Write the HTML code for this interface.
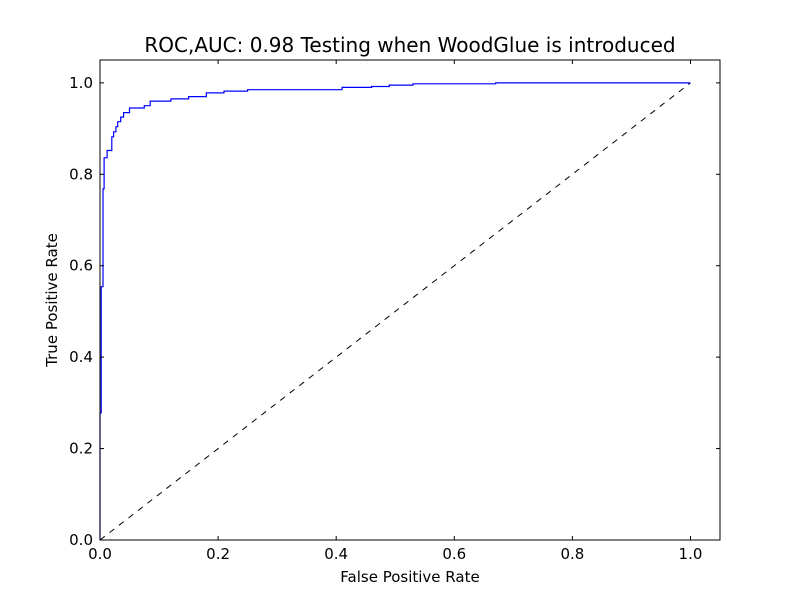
<!DOCTYPE html>
<html><head><meta charset="utf-8"><style>
body{margin:0;background:#fff}
svg text{font-family:"DejaVu Sans","Liberation Sans",sans-serif}
</style></head><body>
<svg id="chart" width="800" height="600" xmlns="http://www.w3.org/2000/svg">
<rect width="800" height="600" fill="#fff"/>
<g id="plot"></g>
</svg>
<script>
const fprValues=[0,0,0.002,0.002,0.005,0.005,0.007,0.007,0.012,0.012,0.02,0.02,0.023,0.023,0.027,0.027,0.03,0.03,0.035,0.035,0.04,0.04,0.05,0.05,0.075,0.075,0.085,0.085,0.12,0.12,0.15,0.15,0.18,0.18,0.21,0.21,0.25,0.25,0.41,0.41,0.46,0.46,0.49,0.49,0.53,0.53,0.67,0.67,1.0];
const tprValues=[0,0.278,0.278,0.554,0.554,0.768,0.768,0.836,0.836,0.852,0.852,0.882,0.882,0.893,0.893,0.904,0.904,0.915,0.915,0.925,0.925,0.935,0.935,0.945,0.945,0.95,0.95,0.96,0.96,0.965,0.965,0.97,0.97,0.978,0.978,0.982,0.982,0.985,0.985,0.99,0.99,0.992,0.992,0.995,0.995,0.998,0.998,1.0,1.0];
const xTicks=[0,0.2,0.4,0.6,0.8,1.0];
const yTicks=[0,0.2,0.4,0.6,0.8,1.0];
const tickLabels=["0.0","0.2","0.4","0.6","0.8","1.0"];
const L=100,R=720,T=60,B=540,MAX=1.05;
const sx=v=>L+v/MAX*(R-L), sy=v=>B-v/MAX*(B-T);
const g=document.getElementById('plot');
const NS='http://www.w3.org/2000/svg';
function mk(tag,attrs){const e=document.createElementNS(NS,tag);for(const k in attrs)e.setAttribute(k,attrs[k]);g.appendChild(e);return e;}
let d=mk('line',{x1:sx(0),y1:sy(0),x2:sx(1),y2:sy(1),stroke:'#000','stroke-dasharray':'6,6','stroke-width':1});


let pts=fprValues.map((f,i)=>sx(f).toFixed(1)+','+sy(tprValues[i]).toFixed(1)).join(' ');
let c=mk('polyline',{points:pts,fill:'none',stroke:'#0000ff','stroke-width':1.2});


let fr=mk('rect',{x:L,y:T,width:R-L,height:B-T,fill:'none',stroke:'#000','stroke-width':1});


xTicks.forEach((v,i)=>{
 const x=sx(v);
 mk('line',{x1:x,y1:B,x2:x,y2:B-4,stroke:'#000'});
 mk('line',{x1:x,y1:T,x2:x,y2:T+4,stroke:'#000'});
 const t=mk('text',{x:x,y:B+19,'text-anchor':'middle','font-size':15});
 t.textContent=tickLabels[i];
 
 
});
yTicks.forEach((v,i)=>{
 const y=sy(v);
 mk('line',{x1:L,y1:y,x2:L+4,y2:y,stroke:'#000'});
 mk('line',{x1:R,y1:y,x2:R-4,y2:y,stroke:'#000'});
 const t=mk('text',{x:L-7,y:y+5,'text-anchor':'end','font-size':15});
 t.textContent=tickLabels[i];
 
 
});
let tt=mk('text',{x:410,y:52,'text-anchor':'middle','font-size':20});
tt.textContent='ROC,AUC: 0.98 Testing when WoodGlue is introduced';


let xl=mk('text',{x:410,y:582,'text-anchor':'middle','font-size':15});
xl.textContent='False Positive Rate';


let yl=mk('text',{x:57,y:300,'text-anchor':'middle','font-size':15,transform:'rotate(-90 57 300)'});
yl.textContent='True Positive Rate';


</script>
</body></html>
